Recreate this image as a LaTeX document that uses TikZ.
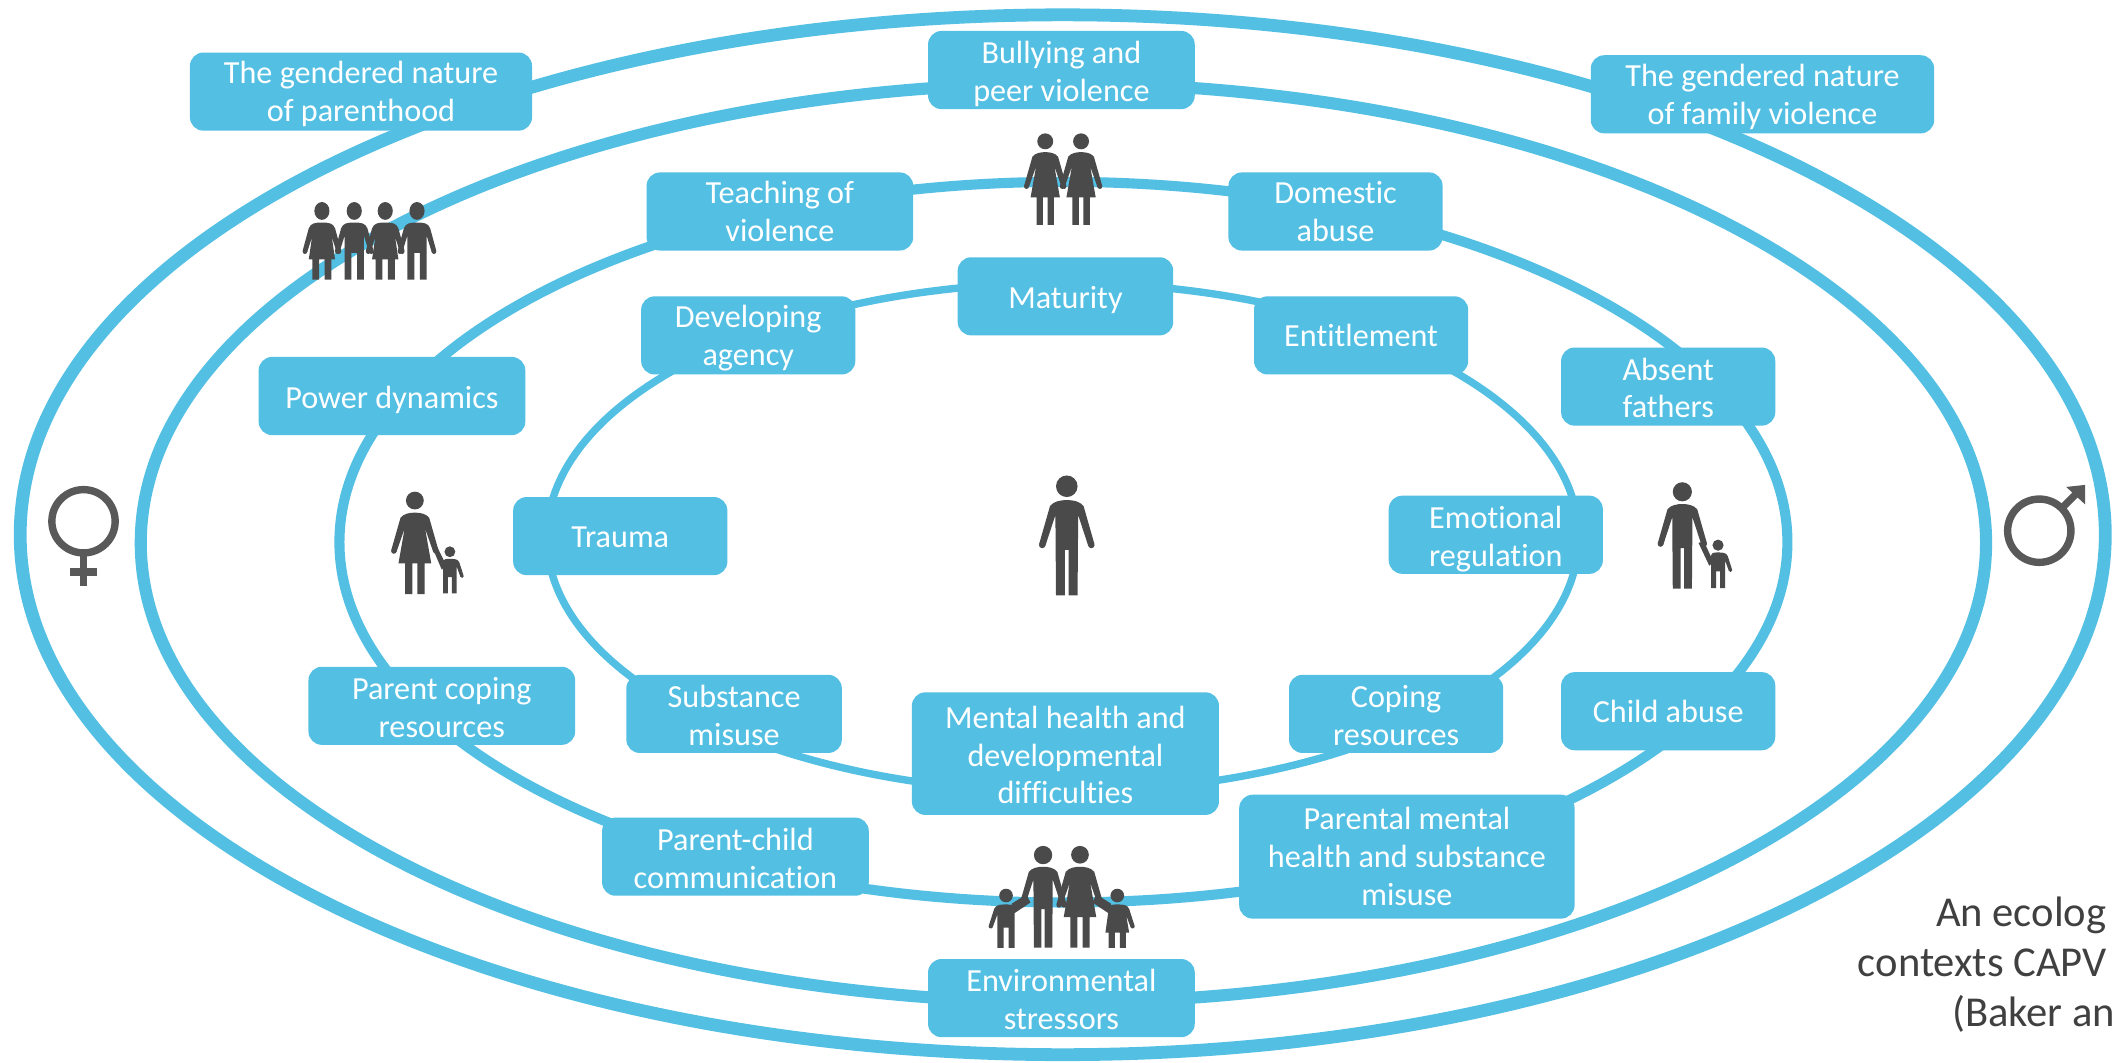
\documentclass[tikz,border=0pt]{standalone}
\usepackage{fontspec}
\setmainfont[Ligatures=NoCommon]{Carlito}
\definecolor{ringblue}{HTML}{53BFE3}
\definecolor{icon}{HTML}{4A4A4A}
\definecolor{symb}{HTML}{595959}
\definecolor{txt}{HTML}{404040}
\tikzset{
  ring/.style={draw=ringblue,fill=none},
  tagbox/.style={fill=ringblue,rounded corners=0.2cm,inner sep=0pt,outer sep=0pt},
  tagtext/.style={inner sep=0pt,outer sep=0pt,align=center,text=white,
    font=\fontsize{13.6}{16}\selectfont},
  note/.style={anchor=base west,text=txt,inner sep=0pt,font=\fontsize{18}{22}\selectfont},
  manpic/.pic={
    \fill[icon] (0,0.09) circle (0.09);
    \fill[icon] (0,0.205) .. controls (0.05,0.205) and (0.11,0.215) .. (0.14,0.255) -- (0.23,0.57) -- (0.18,0.59) -- (0.095,0.33) -- (0.09,1) -- (0.016,1) -- (0.016,0.62) -- (-0.016,0.62) -- (-0.016,1) -- (-0.09,1) -- (-0.095,0.33) -- (-0.18,0.59) -- (-0.23,0.57) -- (-0.14,0.255) .. controls (-0.11,0.215) and (-0.05,0.205) .. (0,0.205) -- cycle;
    \fill[icon] (0.205,0.58) circle (0.027) (-0.205,0.58) circle (0.027);
  },
  womanpic/.pic={
    \fill[icon] (0,0.087) circle (0.087);
    \fill[icon] (0,0.205) .. controls (0.05,0.205) and (0.11,0.215) .. (0.14,0.255) -- (0.23,0.57) -- (0.18,0.59) -- (0.1,0.36) -- (0.16,0.7) -- (0.095,0.7) -- (0.095,1) -- (0.025,1) -- (0.025,0.7) -- (-0.025,0.7) -- (-0.025,1) -- (-0.095,1) -- (-0.095,0.7) -- (-0.16,0.7) -- (-0.1,0.36) -- (-0.18,0.59) -- (-0.23,0.57) -- (-0.14,0.255) .. controls (-0.11,0.215) and (-0.05,0.205) .. (0,0.205) -- cycle;
    \fill[icon] (0.205,0.58) circle (0.027) (-0.205,0.58) circle (0.027);
  },
  boypic/.pic={
    \fill[icon] (0,0.115) circle (0.115);
    \fill[icon] (0,0.265) .. controls (0.1,0.265) and (0.17,0.27) .. (0.2,0.34) -- (0.29,0.62) -- (0.225,0.65) -- (0.145,0.43) -- (0.145,1) -- (0.042,1) -- (0.042,0.655) -- (-0.042,0.655) -- (-0.042,1) -- (-0.145,1) -- (-0.145,0.43) -- (-0.225,0.65) -- (-0.29,0.62) -- (-0.2,0.34) .. controls (-0.17,0.27) and (-0.1,0.265) .. (0,0.265) -- cycle;
    \fill[icon] (0.258,0.635) circle (0.036) (-0.258,0.635) circle (0.036);
  },
  girlpic/.pic={
    \fill[icon] (0,0.115) circle (0.115);
    \fill[icon] (0,0.265) .. controls (0.1,0.265) and (0.17,0.27) .. (0.2,0.34) -- (0.29,0.62) -- (0.225,0.65) -- (0.15,0.45) -- (0.2,0.74) -- (0.145,0.74) -- (0.145,1) -- (0.042,1) -- (0.042,0.74) -- (-0.042,0.74) -- (-0.042,1) -- (-0.145,1) -- (-0.145,0.74) -- (-0.2,0.74) -- (-0.15,0.45) -- (-0.225,0.65) -- (-0.29,0.62) -- (-0.2,0.34) .. controls (-0.17,0.27) and (-0.1,0.265) .. (0,0.265) -- cycle;
    \fill[icon] (0.258,0.635) circle (0.036) (-0.258,0.635) circle (0.036);
  },
  boyonepic/.pic={
    \fill[icon] (0,0.115) circle (0.115);
    \fill[icon] (0,0.265) .. controls (0.1,0.265) and (0.17,0.27) .. (0.2,0.34) -- (0.29,0.62) -- (0.225,0.65) -- (0.145,0.43) -- (0.145,1) -- (0.042,1) -- (0.042,0.655) -- (-0.042,0.655) -- (-0.042,1) -- (-0.145,1) -- (-0.145,0.34) .. controls (-0.13,0.27) and (-0.1,0.265) .. (0,0.265) -- cycle;
    \fill[icon] (0.258,0.635) circle (0.036);
  },
  girlonepic/.pic={
    \fill[icon] (0,0.115) circle (0.115);
    \fill[icon] (0,0.265) .. controls (0.1,0.265) and (0.17,0.27) .. (0.2,0.34) -- (0.29,0.62) -- (0.225,0.65) -- (0.15,0.45) -- (0.2,0.74) -- (0.145,0.74) -- (0.145,1) -- (0.042,1) -- (0.042,0.74) -- (-0.042,0.74) -- (-0.042,1) -- (-0.145,1) -- (-0.145,0.74) -- (-0.2,0.74) -- (-0.145,0.34) .. controls (-0.13,0.27) and (-0.1,0.265) .. (0,0.265) -- cycle;
    \fill[icon] (0.258,0.635) circle (0.036);
  },
}
\newcommand{\tagb}[7][1]{\node[tagbox,minimum width={(#5-#3)*0.02cm},minimum height={(#6-#4)*0.02cm}] (#2) at ({(#3+#5)/2},{(#4+#6)/2}) {};
  \node[tagtext] (#2t) at ([yshift={-#1*0.02cm}]#2.center) {#7};}
\begin{document}
\begin{tikzpicture}[x=0.02cm,y=-0.02cm]
\useasboundingbox (0,0) rectangle (1568,789);
\clip (0,0) rectangle (1568,789);
% rings
\draw[ring,line width=0.19cm] (789,397) ellipse [x radius=774,y radius=386];
\draw[ring,line width=0.18cm] (789.5,403) ellipse [x radius=685,y radius=341];
\draw[ring,line width=0.15cm] (789.5,402.5) ellipse [x radius=537.5,y radius=267.5];
\draw[ring,line width=0.11cm] (789,399) ellipse [x radius=383,y radius=189];
% boxes
\tagb[2]{a1}{141}{39}{395}{97}{The gendered nature\\of parenthood}
\tagb[3]{a2}{689}{23}{887}{81}{Bullying and\\peer violence}
\tagb[2]{a3}{1181}{41}{1436}{99}{The gendered nature\\of family violence}
\tagb[0]{b1}{480}{128}{678}{186}{Teaching of\\violence}
\tagb[0]{b2}{912}{128}{1071}{186}{Domestic\\abuse}
\tagb[2]{c1}{476}{220}{635}{278}{Developing\\agency}
\tagb[3]{c2}{711}{191}{871}{249}{Maturity}
\tagb[0]{c3}{931}{220}{1090}{278}{Entitlement}
\tagb[1]{b3}{1159}{258}{1318}{316}{Absent\\fathers}
\tagb[3]{b4}{192}{265}{390}{323}{Power dynamics}
\tagb[1]{c4}{381}{369}{540}{427}{Trauma}
\tagb[3]{c5}{1031}{368}{1190}{426}{Emotional\\regulation}
\tagb[1]{b5}{229}{495}{427}{553}{Parent coping\\resources}
\tagb[1]{c6}{465}{501}{625}{559}{Substance\\misuse}
\tagb[1]{c7}{677}{514}{905}{605}{Mental health and\\developmental\\difficulties}
\tagb[1]{c8}{957}{501}{1116}{559}{Coping\\resources}
\tagb[0]{b6}{1159}{499}{1318}{557}{Child abuse}
\tagb[1]{b7}{447}{607}{645}{665}{Parent-child\\communication}
\tagb[0]{b8}{920}{590}{1169}{682}{Parental mental\\health and substance\\misuse}
\tagb[1]{a4}{689}{712}{887}{770}{Environmental\\stressors}
% icons: centre
\pic[scale=89] at (792,353) {manpic};
% woman and child
\pic[scale=76] at (308,365) {womanpic};
\pic[scale=35] at (334,405.6) {boyonepic};
\fill[icon] (320,404) -- (323,403) -- (331,419) -- (328,423) -- cycle;
% man and child
\pic[scale=79] at (1249,358) {manpic};
\pic[scale=36] at (1275.5,400.6) {boyonepic};
\fill[icon] (1261,403) -- (1265,402) -- (1272,417) -- (1269,420) -- cycle;
% two women
\pic[scale=68] at (776,99) {womanpic};
\pic[scale=68] at (802.6,99) {womanpic};
% four figures
\pic[scale=57.5,xscale=0.85] at (239,150) {girlpic};
\pic[scale=57.5,xscale=0.85] at (263,150) {boypic};
\pic[scale=57.5,xscale=0.85] at (286,150) {girlpic};
\pic[scale=57.5,xscale=0.85] at (309.6,150) {boypic};
% family
\pic[scale=75.6] at (774.4,628) {manpic};
\pic[scale=75.6] at (801.8,628) {womanpic};
\pic[scale=44,xscale=-1] at (746.9,659.8) {boyonepic};
\pic[scale=44] at (829.5,659.8) {girlonepic};
\fill[icon] (751,671) -- (762,664) -- (765,670) -- (753,678) -- cycle;
\fill[icon] (825,671) -- (814,664) -- (811,670) -- (823,678) -- cycle;
% sex symbols
\draw[symb,line width=0.11cm] (62,387) circle (23.5);
\fill[symb] (59.5,410) rectangle (64.5,435);
\fill[symb] (52,422) rectangle (72,427.5);
\draw[symb,line width=0.11cm] (1514,394) circle (23.5);
\draw[symb,line width=0.11cm] (1531,377) -- (1541,367);
\fill[symb] (1548,360) -- (1534,361.5) -- (1548,374.5) -- cycle;
% note
\node[note] (n1) at (1437,688) {An ecolog};
\node[note] (n2) at (1379,725) {contexts CAPV};
\node[note] (n3) at (1449,762) {(Baker an};
\end{tikzpicture}
\end{document}
